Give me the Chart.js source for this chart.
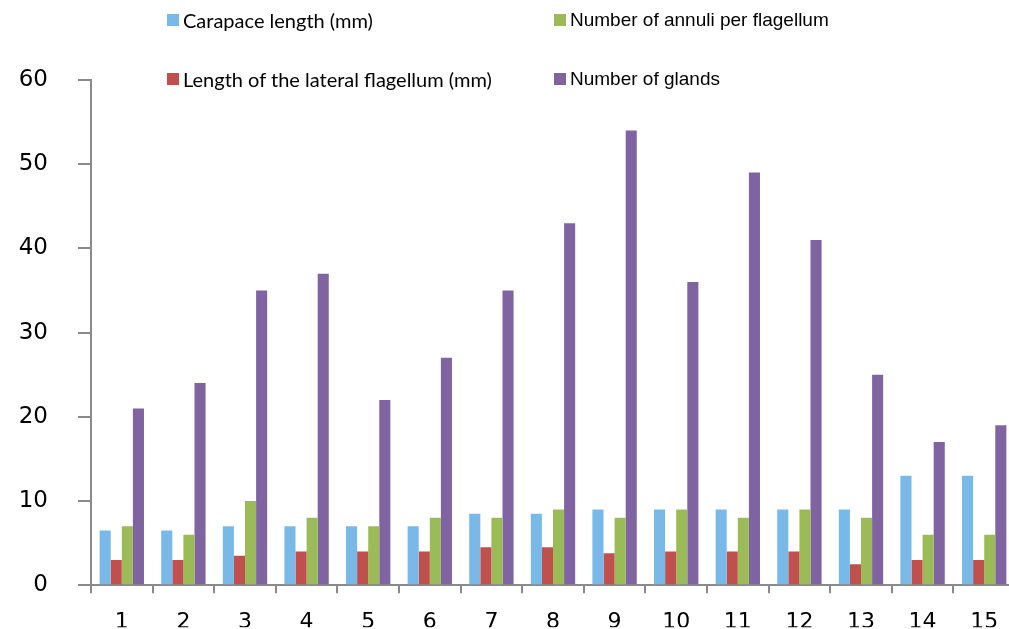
<!DOCTYPE html>
<html>
<head>
<meta charset="utf-8">
<script src="https://cdn.jsdelivr.net/npm/chart.js@4/dist/chart.umd.min.js"></script>
<style>
  html, body { margin: 0; padding: 0; background: #fff; overflow: hidden; width: 1009px; height: 629px; }
  #wrap { position: absolute; left: 0; top: 0; width: 1016px; height: 629px; }
  .key { position: absolute; display: flex; align-items: center; white-space: nowrap; color: #000; }
  .key i { display: inline-block; width: 12px; height: 12px; margin-right: 4px; }
</style>
</head>
<body>
<div id="wrap"><canvas id="c"></canvas></div>
<div id="legend"></div>
<script>
// Specimens 1-15
const categories = ['1','2','3','4','5','6','7','8','9','10','11','12','13','14','15'];

const carapaceLength = [6.5, 6.5, 7, 7, 7, 7, 8.5, 8.5, 9, 9, 9, 9, 9, 13, 13];
const lateralFlagellumLength = [3, 3, 3.5, 4, 4, 4, 4.5, 4.5, 3.8, 4, 4, 4, 2.5, 3, 3];
const annuliPerFlagellum = [7, 6, 10, 8, 7, 8, 8, 9, 8, 9, 8, 9, 8, 6, 6];
const glandCount = [21, 24, 35, 37, 22, 27, 35, 43, 54, 36, 49, 41, 25, 17, 19];

const yTicks = [0, 10, 20, 30, 40, 50, 60];

const seriesNames = [
  'Carapace length (mm)',
  'Length of the lateral flagellum (mm)',
  'Number of annuli per flagellum',
  'Number of glands'
];
const seriesColors = ['#78B9E8', '#C0504D', '#9BBB59', '#8064A2'];
const seriesValues = [carapaceLength, lateralFlagellumLength, annuliPerFlagellum, glandCount];

const axisGray = '#8a8a8a';

const datasets = seriesNames.map((name, i) => ({
  label: name,
  data: seriesValues[i],
  backgroundColor: seriesColors[i],
  borderWidth: 0,
  barPercentage: 1.0,
  categoryPercentage: 0.72
}));

new Chart(document.getElementById('c'), {
  type: 'bar',
  data: { labels: categories, datasets },
  options: {
    responsive: true,
    maintainAspectRatio: false,
    devicePixelRatio: 1,
    animation: false,
    layout: { padding: { top: 80, right: 1, left: 0, bottom: 0 } },
    plugins: { legend: { display: false }, tooltip: { enabled: false } },
    scales: {
      x: {
        offset: true,
        grid: { offset: true, drawOnChartArea: false, tickLength: 8, color: axisGray, lineWidth: 2 },
        border: { color: axisGray, width: 2 },
        ticks: {
          color: '#000',
          padding: 16,
          maxRotation: 0,
          autoSkip: false,
          font: { family: 'DejaVu Sans', size: 22 }
        },
        afterFit: s => { s.height = 42; }
      },
      y: {
        min: 0,
        max: 60,
        afterBuildTicks: s => { s.ticks = yTicks.map(v => ({ value: v })); },
        grid: { drawOnChartArea: false, tickLength: 13, color: axisGray, lineWidth: 2 },
        border: { color: axisGray, width: 2 },
        ticks: {
          color: '#000',
          padding: 30,
          font: { family: 'DejaVu Sans', size: 23 }
        },
        afterFit: s => { s.width = 91; }
      }
    }
  }
});

// Two-column key above the plot
const keySlots = [
  { left: 167, top: 20, font: '20px Lato' },
  { left: 167, top: 79, font: '20px Lato' },
  { left: 554, top: 20, font: '19px "Liberation Sans"' },
  { left: 554, top: 79, font: '19px "Liberation Sans"' }
];
const legend = document.getElementById('legend');
seriesNames.forEach((name, i) => {
  const slot = keySlots[i];
  const el = document.createElement('div');
  el.className = 'key';
  el.style.left = slot.left + 'px';
  el.style.top = (slot.top - 12) + 'px';
  el.style.height = '24px';
  el.style.font = slot.font;
  const sw = document.createElement('i');
  sw.style.background = seriesColors[i];
  el.appendChild(sw);
  el.appendChild(document.createTextNode(name));
  legend.appendChild(el);
});
</script>
</body>
</html>
